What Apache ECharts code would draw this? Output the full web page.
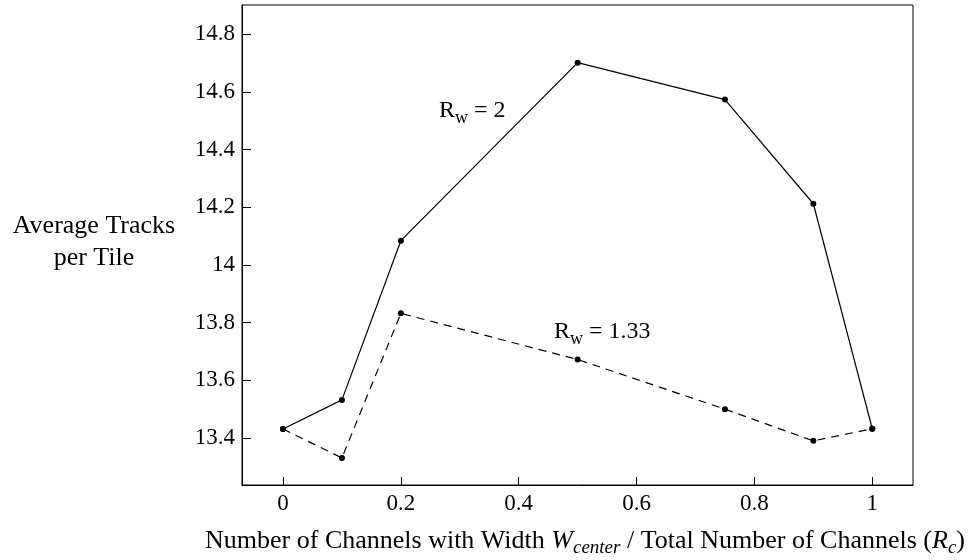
<!DOCTYPE html>
<html>
<head>
<meta charset="utf-8">
<script src="https://cdn.jsdelivr.net/npm/echarts@6/dist/echarts.min.js"></script>
<style>
  html, body { margin: 0; padding: 0; background: #fff; }
  #chart { width: 974px; height: 560px; }
</style>
</head>
<body>
<div id="chart"></div>
<script>
// x positions (R_c) shared by both curves
var xValues = [0, 0.1, 0.2, 0.5, 0.75, 0.9, 1]
// average tracks per tile, R_w = 2 (solid)
var rw2 = [13.431, 13.532, 14.084, 14.701, 14.573, 14.212, 13.432]
// average tracks per tile, R_w = 1.33 (dashed)
var rw133 = [13.431, 13.331, 13.832, 13.672, 13.500, 13.390, 13.432]
// tick labels
var xTicks = [0, 0.2, 0.4, 0.6, 0.8, 1]
var yTicks = [13.4, 13.6, 13.8, 14, 14.2, 14.4, 14.6, 14.8]

var FONT = '"Liberation Serif", "Times New Roman", serif'
var TICK_FS = 23
var NAME_FS = 26
var NOTE_FS = 24

function zip(xs, ys) {
  return xs.map(function (x, i) { return [x, ys[i]] })
}

// measure text width so subscripts can sit right after their base letters
var ctx = document.createElement('canvas').getContext('2d')
function textWidth(t, size, italic) {
  ctx.font = (italic ? 'italic ' : '') + size + 'px ' + FONT
  return ctx.measureText(t).width
}

// lay out a run of text pieces starting at x (middle of main line at y)
function textRun(x, y, fs, parts, center) {
  var total = 0
  parts.forEach(function (p) { total += textWidth(p.t, p.size || fs, p.italic) })
  var cx = center ? x - total / 2 : x
  var out = []
  parts.forEach(function (p) {
    var size = p.size || fs
    out.push({
      type: 'text',
      x: cx,
      y: y + (p.dy || 0),
      silent: true,
      style: {
        text: p.t,
        fontFamily: FONT,
        fontSize: size,
        fontStyle: p.italic ? 'italic' : 'normal',
        fill: '#000',
        align: 'left',
        verticalAlign: 'middle'
      }
    })
    cx += textWidth(p.t, size, p.italic)
  })
  return out
}

var graphics = []
  .concat(textRun(439, 111, NOTE_FS, [{ t: 'R' }, { t: 'w', size: 18, dy: 7 }, { t: ' = 2' }]))
  .concat(textRun(554, 332, NOTE_FS, [{ t: 'R' }, { t: 'w', size: 18, dy: 7 }, { t: ' = 1.33' }]))
  .concat(textRun(94, 226, NAME_FS, [{ t: 'Average Tracks' }], true))
  .concat(textRun(94, 258, NAME_FS, [{ t: 'per Tile' }], true))
  .concat(textRun(585, 541, NAME_FS, [
    { t: 'Number of Channels with Width ' },
    { t: 'W', italic: true },
    { t: 'center', italic: true, size: 19, dy: 7 },
    { t: ' / Total Number of Channels (' },
    { t: 'R', italic: true },
    { t: 'c', italic: true, size: 19, dy: 7 },
    { t: ')' }
  ], true))

var chart = echarts.init(document.getElementById('chart'))

chart.setOption({
  animation: false,
  backgroundColor: '#fff',
  grid: {
    left: 242,
    top: 5,
    width: 671,
    height: 480,
    show: true,
    borderColor: '#000',
    borderWidth: 1
  },
  xAxis: {
    type: 'value',
    min: -0.0696,
    max: 1.0691,
    axisLine: { onZero: false, lineStyle: { color: '#000', width: 1 } },
    axisTick: {
      inside: true,
      length: 8,
      customValues: xTicks,
      lineStyle: { color: '#000' }
    },
    axisLabel: {
      customValues: xTicks,
      margin: 7,
      color: '#000',
      fontFamily: FONT,
      fontSize: TICK_FS,
      formatter: function (v) { return String(v) }
    },
    splitLine: { show: false }
  },
  yAxis: {
    type: 'value',
    min: 13.237,
    max: 14.901,
    axisLine: { show: true, onZero: false, lineStyle: { color: '#000', width: 1 } },
    axisTick: {
      show: true,
      inside: true,
      length: 9,
      customValues: yTicks,
      lineStyle: { color: '#000' }
    },
    axisLabel: {
      customValues: yTicks,
      margin: 7,
      color: '#000',
      fontFamily: FONT,
      fontSize: TICK_FS,
      formatter: function (v) { return String(Math.round(v * 10) / 10) }
    },
    splitLine: { show: false }
  },
  series: [
    {
      name: 'Rw = 2',
      type: 'line',
      data: zip(xValues, rw2),
      symbol: 'circle',
      symbolSize: 6,
      itemStyle: { color: '#000' },
      lineStyle: { color: '#000', width: 1.2 }
    },
    {
      name: 'Rw = 1.33',
      type: 'line',
      data: zip(xValues, rw133),
      symbol: 'circle',
      symbolSize: 6,
      itemStyle: { color: '#000' },
      lineStyle: { color: '#000', width: 1.2, type: [8, 6] }
    }
  ],
  graphic: graphics
})
</script>
</body>
</html>
